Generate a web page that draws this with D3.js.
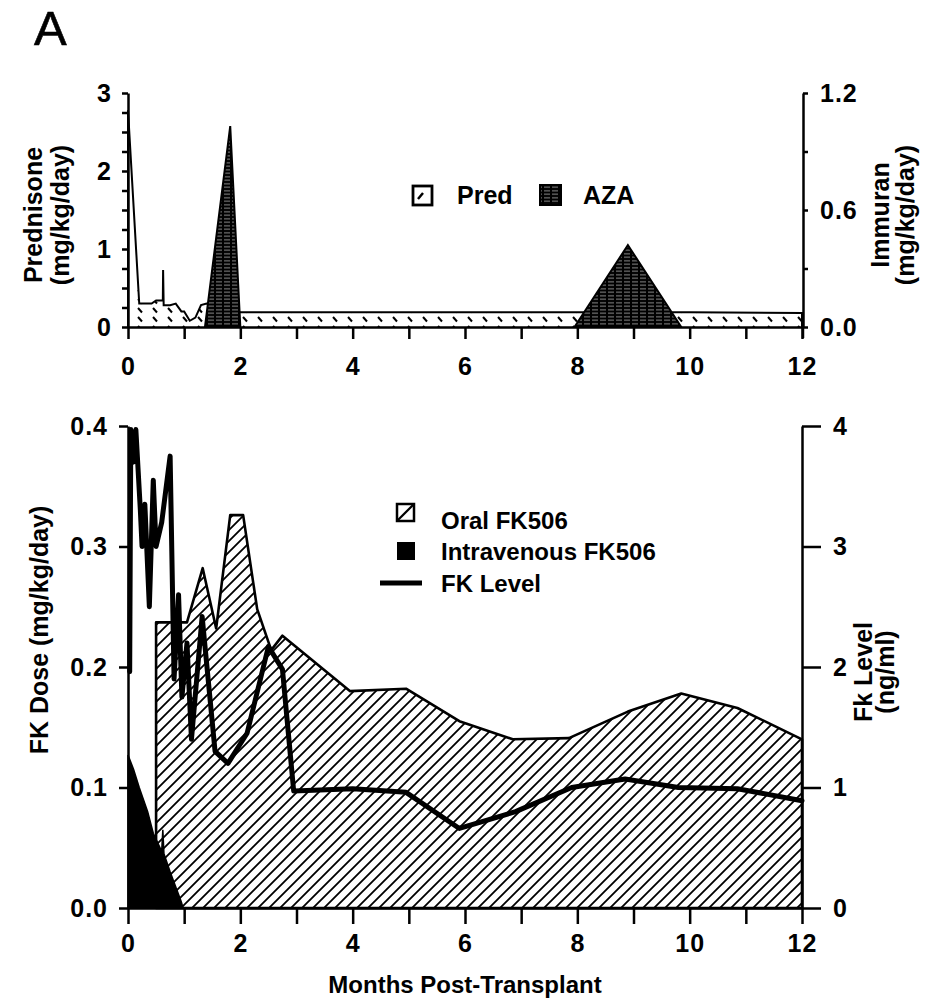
<!DOCTYPE html>
<html>
<head>
<meta charset="utf-8">
<script src="https://cdn.jsdelivr.net/npm/d3@7"></script>
<style>
  html, body { margin: 0; padding: 0; background: #fff; }
  svg { display: block; }
  text { font-family: "Liberation Sans", Arial, Helvetica, sans-serif; fill: #000; }
</style>
</head>
<body>
<svg id="chart" width="945" height="1001"></svg>
<script>
// ---------------- DATA ----------------
// Top panel: Prednisone (mg/kg/day) and AZA / Immuran (mg/kg/day)
const predMonths = [0, 0, 0.2, 0.42, 0.5, 0.62, 0.625, 0.635, 0.75, 0.85, 0.95, 1.0, 1.1, 1.2, 1.3, 1.4, 2.0, 10, 12, 12];
const predValues = [0, 2.78, 0.3, 0.3, 0.34, 0.34, 0.73, 0.28, 0.28, 0.3, 0.2, 0.2, 0.08, 0.12, 0.28, 0.3, 0.19, 0.19, 0.18, 0];

const azaCourse1Months = [1.37, 1.82, 2.0];
const azaCourse1Values = [0, 1.03, 0];
const azaCourse2Months = [7.95, 8.9, 9.85];
const azaCourse2Values = [0, 0.42, 0];

// Bottom panel: FK506 dose (mg/kg/day) and FK level (ng/ml)
const oralMonths = [0.5, 0.5, 1.05, 1.33, 1.57, 1.82, 2.05, 2.3, 2.55, 2.75, 3.95, 4.95, 5.9, 6.85, 7.85, 8.9, 9.85, 10.85, 12, 12];
const oralDose   = [0, 0.237, 0.237, 0.282, 0.232, 0.326, 0.326, 0.248, 0.214, 0.226, 0.18, 0.182, 0.155, 0.14, 0.141, 0.163, 0.178, 0.166, 0.14, 0];

const ivMonths = [0, 0, 0.1, 0.2, 0.35, 0.45, 0.6, 0.62, 0.64, 0.75, 0.95, 0.98];
const ivDose   = [0, 0.127, 0.115, 0.1, 0.08, 0.062, 0.047, 0.065, 0.045, 0.03, 0.005, 0];

const levelMonths = [0.03, 0.05, 0.09, 0.14, 0.22, 0.25, 0.3, 0.38, 0.45, 0.5, 0.6, 0.75, 0.82, 0.9, 0.96, 1.05, 1.13, 1.32, 1.55, 1.78, 2.12, 2.5, 2.75, 2.95, 4.0, 4.95, 5.9, 6.9, 7.9, 8.85, 9.8, 10.85, 12];
const levelValues = [1.96, 3.97, 3.7, 3.97, 3.3, 3.0, 3.35, 2.5, 3.55, 3.0, 3.2, 3.75, 1.9, 2.6, 1.75, 2.2, 1.4, 2.42, 1.3, 1.2, 1.45, 2.17, 1.98, 0.97, 0.99, 0.96, 0.66, 0.8, 1.0, 1.07, 1.0, 0.99, 0.89];

// Tick values / labels
const monthTicks = [0,1,2,3,4,5,6,7,8,9,10,11,12];
const predTicks = [0,0.25,0.5,0.75,1,1.25,1.5,1.75,2,2.25,2.5,2.75,3];
const azaTicks = [0, 0.3, 0.6, 0.9, 1.2];
const doseTicks = [0, 0.1, 0.2, 0.3, 0.4];
const levelTicks = [0, 1, 2, 3, 4];

// ---------------- DRAWING ----------------
const svg = d3.select("#chart");
const defs = svg.append("defs");

// patterns
const pHatch = defs.append("pattern").attr("id", "hatch").attr("patternUnits", "userSpaceOnUse")
  .attr("width", 11).attr("height", 11);
pHatch.append("rect").attr("width", 11).attr("height", 11).attr("fill", "#fff");
pHatch.append("path").attr("d", "M-1,12 L12,-1 M-3,3 L3,-3 M8,14 L14,8")
  .attr("stroke", "#000").attr("stroke-width", 1.8);

const pPred = defs.append("pattern").attr("id", "predpat").attr("patternUnits", "userSpaceOnUse")
  .attr("width", 15).attr("height", 9);
pPred.append("rect").attr("width", 15).attr("height", 9).attr("fill", "#fff");
pPred.append("path").attr("d", "M3,2 L7,6.5").attr("stroke", "#000").attr("stroke-width", 2);

const pAza = defs.append("pattern").attr("id", "azapat").attr("patternUnits", "userSpaceOnUse")
  .attr("width", 8).attr("height", 3.5);
pAza.append("rect").attr("width", 8).attr("height", 3.5).attr("fill", "#000");
pAza.append("path").attr("d", "M0,1.75 L6,1.75").attr("stroke", "#fff").attr("stroke-width", 0.6);

const x = d3.scaleLinear().domain([0, 12]).range([128, 802]);
const yPred = d3.scaleLinear().domain([0, 3]).range([327, 93]);
const yAza = d3.scaleLinear().domain([0, 1.2]).range([327, 93]);
const yDose = d3.scaleLinear().domain([0, 0.4]).range([908, 426]);
const yLevel = d3.scaleLinear().domain([0, 4]).range([908, 426]);

function pts(ms, vs) { return ms.map((m, i) => [m, vs[i]]); }

// Title
svg.append("text").attr("x", 34).attr("y", 45).attr("font-size", 49)
  .attr("stroke", "#000").attr("stroke-width", 0.6).text("A");

// ---------- Top panel ----------
const predLine = d3.line().x(d => x(d[0])).y(d => yPred(d[1]));
svg.append("path").attr("d", predLine(pts(predMonths, predValues)))
  .attr("fill", "url(#predpat)").attr("stroke", "#000").attr("stroke-width", 2);

const azaLine = d3.line().x(d => x(d[0])).y(d => yAza(d[1]));
[[azaCourse1Months, azaCourse1Values], [azaCourse2Months, azaCourse2Values]].forEach(([ms, vs]) => {
  svg.append("path").attr("d", azaLine(pts(ms, vs)) + "Z")
    .attr("fill", "url(#azapat)").attr("stroke", "#000").attr("stroke-width", 2);
});

function styleAxis(g, sw) {
  g.selectAll("path.domain").attr("stroke", "#000").attr("stroke-width", sw);
  g.selectAll(".tick line").attr("stroke", "#000").attr("stroke-width", sw);
  g.selectAll(".tick text").attr("font-size", 25).attr("font-weight", "bold")
    .attr("letter-spacing", 1)
    .attr("font-family", "'Liberation Sans', Arial, Helvetica, sans-serif").attr("fill", "#000");
}

const topX = svg.append("g").attr("transform", "translate(0,327)")
  .call(d3.axisBottom(x).tickValues(monthTicks).tickSize(12).tickSizeOuter(0).tickPadding(18)
    .tickFormat(d => d % 2 === 0 ? d : ""));
styleAxis(topX, 2.5);

const topL = svg.append("g").attr("transform", "translate(128,0)")
  .call(d3.axisLeft(yPred).tickValues(predTicks).tickSize(6).tickSizeOuter(0).tickPadding(10)
    .tickFormat(d => Number.isInteger(d) ? d : ""));
styleAxis(topL, 2.5);

const topR = svg.append("g").attr("transform", "translate(803,0)")
  .call(d3.axisRight(yAza).tickValues(azaTicks).tickSize(5).tickSizeOuter(0).tickPadding(12)
    .tickFormat(d => (d === 0.3 || d === 0.9) ? "" : d3.format(".1f")(d)));
styleAxis(topR, 2.5);
svg.append("line").attr("x1", 803).attr("x2", 803).attr("y1", 327).attr("y2", 338).attr("stroke", "#000").attr("stroke-width", 2.5);

// top axis titles
const tl = svg.append("text").attr("transform", "translate(42,215) rotate(-90)")
  .attr("text-anchor", "middle").attr("font-size", 25).attr("font-weight", "bold");
tl.append("tspan").attr("x", 0).attr("dy", 0).text("Prednisone");
tl.append("tspan").attr("x", 0).attr("dy", 27).text("(mg/kg/day)");

const tr = svg.append("text").attr("transform", "translate(889,215) rotate(-90)")
  .attr("text-anchor", "middle").attr("font-size", 25).attr("font-weight", "bold");
tr.append("tspan").attr("x", 0).attr("dy", 0).text("Immuran");
tr.append("tspan").attr("x", 0).attr("dy", 25).text("(mg/kg/day)");

// top legend
svg.append("rect").attr("x", 413).attr("y", 186).attr("width", 19).attr("height", 19)
  .attr("fill", "#fff").attr("stroke", "#000").attr("stroke-width", 2.8);
svg.append("path").attr("d", "M418,199 L423,193").attr("stroke", "#000").attr("stroke-width", 2.5);
svg.append("text").attr("x", 457).attr("y", 204).attr("font-size", 25).attr("font-weight", "bold").text("Pred");
svg.append("rect").attr("x", 540).attr("y", 185).attr("width", 21).attr("height", 20)
  .attr("fill", "url(#azapat)").attr("stroke", "#000").attr("stroke-width", 2);
svg.append("text").attr("x", 583).attr("y", 204).attr("font-size", 25).attr("font-weight", "bold").text("AZA");

// ---------- Bottom panel ----------
const doseArea = d3.line().x(d => x(d[0])).y(d => yDose(d[1]));
svg.append("path").attr("d", doseArea(pts(oralMonths, oralDose)) + "Z")
  .attr("fill", "url(#hatch)").attr("stroke", "#000").attr("stroke-width", 2.6)
  .attr("stroke-linejoin", "round");
svg.append("path").attr("d", doseArea(pts(ivMonths, ivDose)) + "Z")
  .attr("fill", "#000").attr("stroke", "#000").attr("stroke-width", 1.5);

const levelLine = d3.line().x(d => x(d[0])).y(d => yLevel(d[1]));
svg.append("path").attr("d", levelLine(pts(levelMonths, levelValues)))
  .attr("fill", "none").attr("stroke", "#000").attr("stroke-width", 5)
  .attr("stroke-linejoin", "round").attr("stroke-linecap", "round");

const botX = svg.append("g").attr("transform", "translate(0,908)")
  .call(d3.axisBottom(x).tickValues(monthTicks).tickSize(16).tickSizeOuter(0).tickPadding(10)
    .tickFormat(d => d % 2 === 0 ? d : ""));
styleAxis(botX, 2.5);

const botL = svg.append("g").attr("transform", "translate(128,0)")
  .call(d3.axisLeft(yDose).tickValues(doseTicks).tickSize(9).tickSizeOuter(0).tickPadding(11)
    .tickFormat(d3.format(".1f")));
styleAxis(botL, 2.5);

const botR = svg.append("g").attr("transform", "translate(802,0)")
  .call(d3.axisRight(yLevel).tickValues(levelTicks).tickSize(19).tickSizeOuter(0).tickPadding(12)
    .tickFormat(d3.format("d")));
styleAxis(botR, 2.5);

// bottom axis titles
svg.append("text").attr("transform", "translate(48,630) rotate(-90)")
  .attr("text-anchor", "middle").attr("font-size", 25).attr("font-weight", "bold")
  .text("FK Dose (mg/kg/day)");

const br = svg.append("text").attr("transform", "translate(872,672) rotate(-90)")
  .attr("text-anchor", "middle").attr("font-size", 25).attr("font-weight", "bold");
br.append("tspan").attr("x", 0).attr("dy", 0).text("Fk Level");
br.append("tspan").attr("x", 0).attr("dy", 22).text("(ng/ml)");

svg.append("text").attr("x", 465).attr("y", 993).attr("text-anchor", "middle")
  .attr("font-size", 24).attr("font-weight", "bold").text("Months Post-Transplant");

// bottom legend
svg.append("rect").attr("x", 397).attr("y", 504).attr("width", 17).attr("height", 17)
  .attr("fill", "#fff").attr("stroke", "#000").attr("stroke-width", 2.5);
svg.append("path").attr("d", "M398,520 L413,505").attr("stroke", "#000").attr("stroke-width", 2.2);
svg.append("rect").attr("x", 397).attr("y", 542).attr("width", 18).attr("height", 18).attr("fill", "#000");
svg.append("line").attr("x1", 380).attr("x2", 422).attr("y1", 583).attr("y2", 583)
  .attr("stroke", "#000").attr("stroke-width", 5);
const legRows = ["Oral FK506", "Intravenous FK506", "FK Level"];
const legY = [529, 560, 592];
legRows.forEach((t, i) => {
  svg.append("text").attr("x", 441).attr("y", legY[i]).attr("font-size", 24).attr("font-weight", "bold").text(t);
});
</script>
</body>
</html>
